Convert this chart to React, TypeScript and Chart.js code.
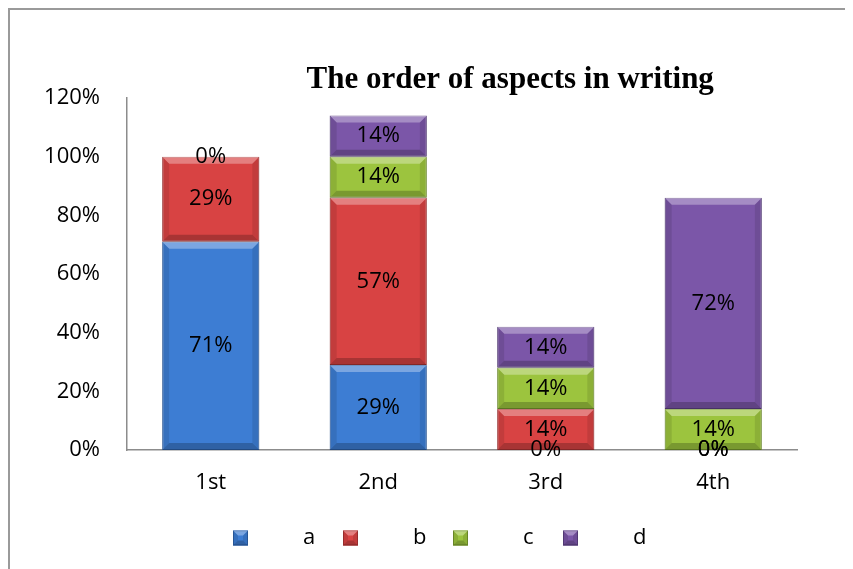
import React, { useEffect, useRef } from "react";
import { Chart, registerables } from "chart.js";

Chart.register(...registerables);

const categories = ["1st", "2nd", "3rd", "4th"];
const seriesNames = ["a", "b", "c", "d"];
const seriesA: (number | null)[] = [71, 29, 0, 0];
const seriesB: (number | null)[] = [29, 57, 14, 0];
const seriesC: (number | null)[] = [0, 14, 14, 14];
const seriesD: (number | null)[] = [null, 14, 14, 72];
const yTicks = [0, 20, 40, 60, 80, 100, 120];
const titleText = "The order of aspects in writing";

const colors = ["#3d7dd3", "#d84343", "#9cc43e", "#7b56a8"];
const edgeColors = ["#2c5fa6", "#a83232", "#74952c", "#5b3f80"];

const FONT = "'Open Sans', 'Liberation Sans', sans-serif";

function bevelBar(ctx: CanvasRenderingContext2D, x: number, y: number, base: number, w: number) {
  const left = x - w / 2;
  const right = x + w / 2;
  const top = Math.min(y, base);
  const bottom = Math.max(y, base);
  const h = bottom - top;
  if (h < 1) return;
  const b = Math.min(7, h / 3);
  ctx.save();
  // top light
  ctx.fillStyle = "rgba(255,255,255,0.32)";
  ctx.beginPath();
  ctx.moveTo(left, top);
  ctx.lineTo(right, top);
  ctx.lineTo(right - b, top + b);
  ctx.lineTo(left + b, top + b);
  ctx.closePath();
  ctx.fill();
  // bottom dark
  ctx.fillStyle = "rgba(0,0,0,0.22)";
  ctx.beginPath();
  ctx.moveTo(left, bottom);
  ctx.lineTo(right, bottom);
  ctx.lineTo(right - b, bottom - b);
  ctx.lineTo(left + b, bottom - b);
  ctx.closePath();
  ctx.fill();
  // sides
  ctx.fillStyle = "rgba(0,0,0,0.10)";
  ctx.beginPath();
  ctx.moveTo(left, top);
  ctx.lineTo(left + b, top + b);
  ctx.lineTo(left + b, bottom - b);
  ctx.lineTo(left, bottom);
  ctx.closePath();
  ctx.fill();
  ctx.beginPath();
  ctx.moveTo(right, top);
  ctx.lineTo(right - b, top + b);
  ctx.lineTo(right - b, bottom - b);
  ctx.lineTo(right, bottom);
  ctx.closePath();
  ctx.fill();
  ctx.restore();
}

const decorPlugin = {
  id: "decor",
  afterDatasetsDraw(chart: any) {
    const ctx: CanvasRenderingContext2D = chart.ctx;
    chart.data.datasets.forEach((ds: any, di: number) => {
      const meta = chart.getDatasetMeta(di);
      meta.data.forEach((el: any, i: number) => {
        const v = ds.data[i];
        if (v === null || v === undefined) return;
        const p = el.getProps(["x", "y", "base", "width"], true);
        bevelBar(ctx, p.x, p.y, p.base, p.width);
      });
    });
    // data labels
    ctx.save();
    ctx.font = `22px ${FONT}`;
    ctx.fillStyle = "#000";
    ctx.textAlign = "center";
    ctx.textBaseline = "middle";
    chart.data.datasets.forEach((ds: any, di: number) => {
      const meta = chart.getDatasetMeta(di);
      meta.data.forEach((el: any, i: number) => {
        const v = ds.data[i];
        if (v === null || v === undefined) return;
        const p = el.getProps(["x", "y", "base"], true);
        ctx.fillText(`${v}%`, p.x, (p.y + p.base) / 2);
      });
    });
    ctx.restore();
  },
  afterDraw(chart: any) {
    const ctx: CanvasRenderingContext2D = chart.ctx;
    const area = chart.chartArea;
    // title
    ctx.save();
    ctx.font = `bold 31px 'Liberation Serif', 'DejaVu Serif', serif`;
    ctx.fillStyle = "#000";
    ctx.textAlign = "center";
    ctx.textBaseline = "middle";
    ctx.fillText(titleText, area.left + (area.right - area.left) * 0.572, area.top - 18);
    ctx.restore();
    // legend
    ctx.save();
    ctx.font = `22px ${FONT}`;
    ctx.textBaseline = "middle";
    ctx.textAlign = "left";
    const ly = area.bottom + 88;
    const startX = area.left + 106;
    const pitch = 110;
    seriesNames.forEach((name, i) => {
      const bx = startX + i * pitch;
      const s = 15;
      ctx.fillStyle = colors[i];
      ctx.fillRect(bx, ly - s / 2, s, s);
      ctx.strokeStyle = edgeColors[i];
      ctx.lineWidth = 1;
      ctx.strokeRect(bx + 0.5, ly - s / 2 + 0.5, s - 1, s - 1);
      bevelBar(ctx, bx + s / 2, ly - s / 2, ly + s / 2, s);
      ctx.fillStyle = "#000";
      ctx.fillText(name, bx + 70, ly);
    });
    ctx.restore();
  },
};

export default function App() {
  const ref = useRef<HTMLCanvasElement | null>(null);
  useEffect(() => {
    if (!ref.current) return;
    const series = [seriesA, seriesB, seriesC, seriesD];
    const chart = new Chart(ref.current, {
      type: "bar",
      data: {
        labels: categories,
        datasets: series.map((d, i) => ({
          label: seriesNames[i],
          data: d,
          backgroundColor: colors[i],
          borderColor: edgeColors[i],
          borderWidth: 1,
          borderSkipped: false,
          barPercentage: 0.58,
          categoryPercentage: 1,
        })),
      },
      options: {
        animation: false,
        responsive: false,
        maintainAspectRatio: false,
        layout: { padding: { top: 88, right: 56, left: 0, bottom: 69 } },
        plugins: {
          legend: { display: false },
          title: { display: false },
          tooltip: { enabled: false },
        },
        scales: {
          x: {
            stacked: true,
            grid: { display: false, drawTicks: false },
            border: { display: true, color: "#8c8c8c", width: 1.5 },
            ticks: { color: "#000", font: { family: FONT, size: 22 }, padding: 20 },
            afterFit: (s: any) => { s.height = 50; },
          },
          y: {
            stacked: true,
            min: 0,
            max: 120,
            afterBuildTicks: (s: any) => { s.ticks = yTicks.map((v) => ({ value: v })); },
            grid: { display: false, drawTicks: false },
            border: { display: true, color: "#8c8c8c", width: 1.5 },
            ticks: {
              color: "#000",
              font: { family: FONT, size: 22 },
              padding: 27,
              callback: (v: any) => `${v}%`,
            },
            afterFit: (s: any) => { s.width = 117; },
          },
        },
      },
      plugins: [decorPlugin],
    });
    return () => chart.destroy();
  }, []);
  return (
    <div
      style={{
        position: "relative",
        width: 845,
        height: 561,
        borderLeft: "2px solid #9a9a9a",
        borderTop: "2px solid #9a9a9a",
        boxSizing: "border-box",
        background: "#fff",
      }}
    >
      <canvas ref={ref} width={843} height={559} style={{ display: "block", width: 843, height: 559 }} />
    </div>
  );
}
